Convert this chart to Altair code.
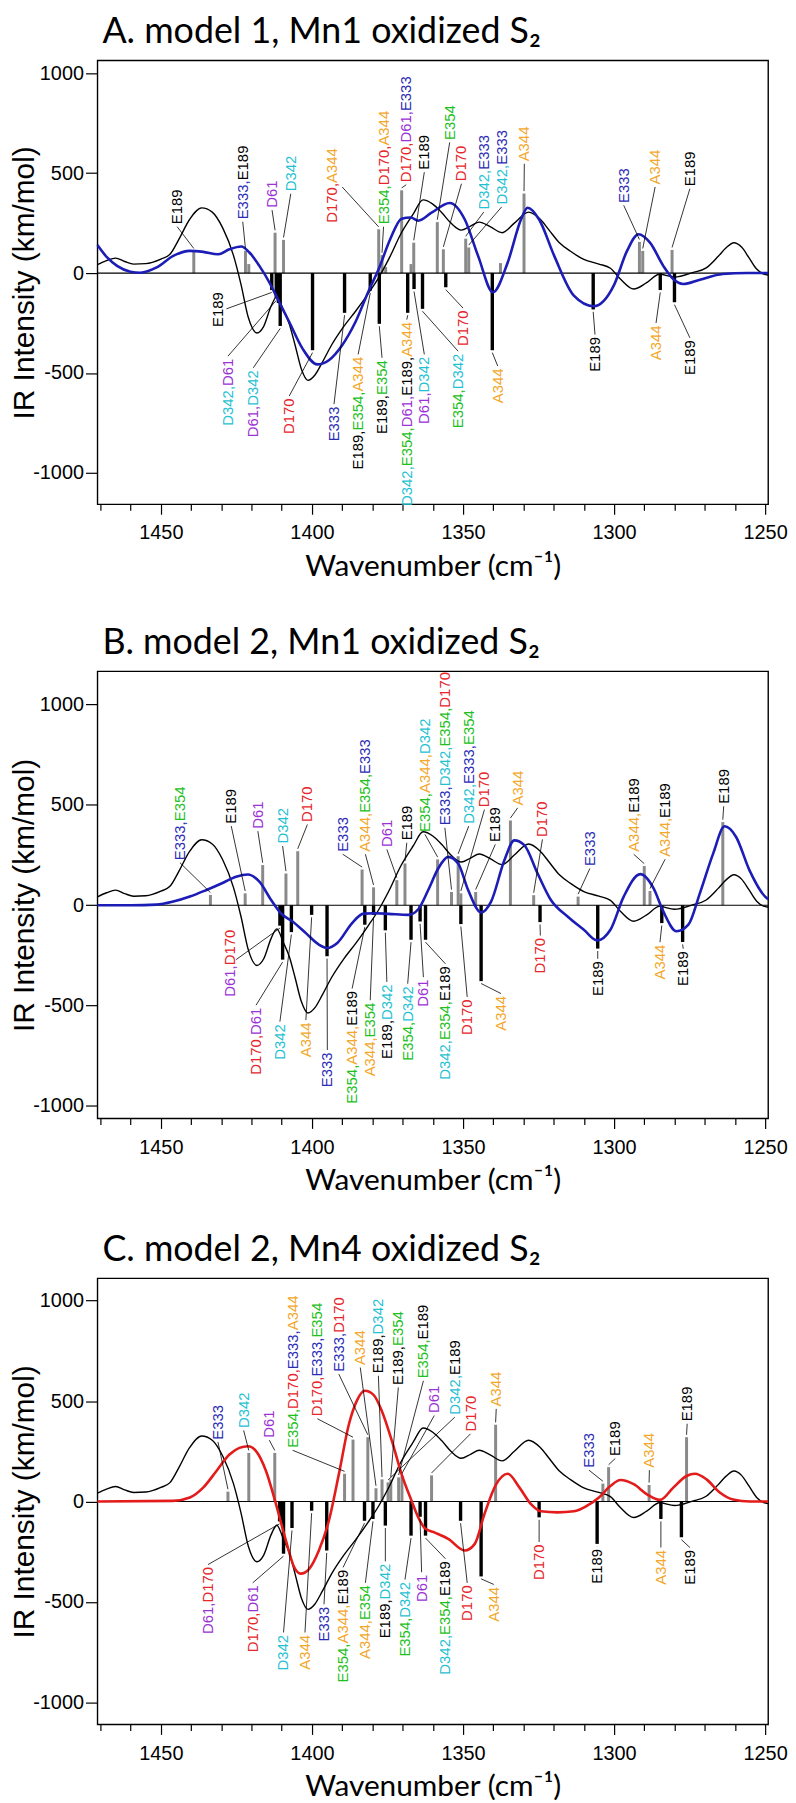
import altair as alt
import pandas as pd

# ---------------- data ----------------
BLACK_WN = [1471, 1468, 1465, 1462, 1459, 1455, 1450, 1447, 1444, 1440.5,
            1436.5, 1433, 1429.5, 1426, 1423.5, 1421, 1418.2, 1416, 1413.5, 1411.6,
            1409.5, 1407.5, 1405.5, 1403.5, 1401.3, 1399, 1396.5, 1393.5, 1389.5, 1385.5,
            1381.5, 1378, 1374.5, 1370.5, 1366.5, 1363.2, 1360, 1357, 1354, 1350.6,
            1347.5, 1344.6, 1341, 1337, 1333, 1328.3, 1324.5, 1321.5, 1318, 1314.4,
            1310, 1305, 1301.2, 1297.9, 1293.5, 1289.2, 1285, 1280, 1274, 1269.5,
            1265.5, 1263, 1260.3, 1257.8, 1255.3, 1252.8, 1250.5, 1249]
BLACK_VAL = [42, 62, 75, 58, 45, 47, 70, 94, 170, 268,
             326, 305, 225, 90, -55, -225, -300, -268, -165, -118,
             -185, -255, -365, -480, -537, -510, -445, -360, -268, -190,
             -105, -25, 72, 198, 295, 366, 345, 302, 250, 215,
             235, 255, 232, 202, 250, 305, 270, 215, 150, 109,
             68, 45, 24, -30, -80, -48, -6, -20, 2, 26,
             84, 125, 152, 130, 76, 20, -5, -10]

A_CURVE_WN = [1471, 1467.8, 1464.5, 1460.1, 1456.8, 1451.4, 1445.9, 1440.4, 1436, 1431.1,
              1427.3, 1423.4, 1420.7, 1417.4, 1414.1, 1410.8, 1407.5, 1403.1, 1398.2, 1394.4,
              1390, 1385.6, 1381.2, 1377.9, 1374.1, 1370.3, 1367.3, 1364.8, 1360.4, 1354.4,
              1349.4, 1345, 1340.1, 1335.2, 1330.8, 1328.6, 1324.8, 1319.8, 1313.3, 1306.7,
              1300.1, 1295.7, 1291.9, 1288.1, 1283.7, 1280.4, 1277.1, 1271.6, 1264, 1256, 1249]
A_CURVE_VAL = [140, 78, 36, 7, 2, 28, 86, 111, 106, 94,
               119, 133, 103, 36, -46, -146, -245, -378, -457, -436,
               -361, -245, -88, 20, 169, 272, 278, 262, 302, 351,
               268, 86, -96, 53, 268, 327, 268, 86, -113, -166,
               -63, 111, 194, 152, 36, -30, -55, -33, -5, 0, 0]

B_CURVE_WN = [1471, 1460, 1451.4, 1445.9, 1440.4, 1434.9, 1429.4, 1425.1, 1421.2, 1417.4,
              1413.5, 1410.3, 1406.4, 1402, 1397.7, 1394.9, 1391.6, 1386.7, 1382.9, 1379,
              1374.6, 1368.1, 1364.8, 1361.5, 1358.2, 1354.9, 1351.6, 1348.3, 1344, 1340.7,
              1336.3, 1333, 1329.7, 1325.3, 1320.9, 1315.4, 1310, 1305.6, 1301.2, 1296.8,
              1291.3, 1286.9, 1283.7, 1279.3, 1275.4, 1271.6, 1267.2, 1263.4, 1259.6, 1255.2,
              1250, 1249]
B_CURVE_VAL = [0, 0, 3, 18, 43, 76, 112, 142, 153, 117,
               26, -40, -81, -139, -196, -213, -188, -89, -42, -40,
               -43, -48, -20, 76, 183, 241, 208, 76, -36, 18,
               224, 323, 299, 158, 26, -56, -122, -175, -122, 43,
               155, 84, -31, -130, -97, 59, 257, 393, 340, 175,
               43, 30]

C_CURVE_WN = [1471, 1446, 1440.4, 1436, 1431.6, 1427.3, 1424, 1421.2, 1418.5, 1415.2,
              1411.9, 1408.6, 1405.9, 1403.7, 1400.9, 1397.7, 1394.4, 1391.1, 1387.8, 1385,
              1382.5, 1379.6, 1376.8, 1373.5, 1370.3, 1367, 1364.8, 1362.5, 1359.3, 1354.9,
              1349.4, 1346.1, 1342.9, 1339, 1335.2, 1331.3, 1327.5, 1324.2, 1318.7, 1313.3,
              1308.9, 1305, 1301.2, 1297.9, 1293.5, 1289.1, 1284.8, 1280.4, 1276, 1273.2,
              1269.4, 1265, 1260.6, 1255, 1249]
C_CURVE_VAL = [0, 3, 20, 69, 152, 234, 267, 275, 251, 152,
               -13, -195, -326, -359, -335, -244, -96, 135, 382, 506,
               551, 531, 448, 300, 135, 3, -79, -135, -155, -186,
               -244, -211, -63, 86, 138, 69, -13, -49, -54, -49,
               -21, 20, 77, 107, 86, 36, 8, 69, 127, 138,
               110, 45, 10, 0, 0]

A_POS_WN = [1439.1, 1422.0, 1420.9, 1412.2, 1409.4, 1377.9, 1376.8, 1375.6, 1370.3, 1367.2,
            1366.3, 1358.5, 1356.5, 1349.1, 1348.1, 1337.6, 1329.8, 1291.6, 1290.5, 1280.8]
A_POS_VAL = [111, 111, 45, 202, 166, 219, 90, 30, 414, 45,
             152, 255, 119, 172, 128, 50, 398, 156, 111, 116]
A_NEG_WN = [1413.3, 1411.8, 1411.1, 1410.5, 1399.8, 1389.2, 1380.7, 1377.7, 1368.3, 1366.2,
            1363.4, 1355.7, 1340.3, 1306.9, 1284.7, 1280.0]
A_NEG_VAL = [-85, -125, -150, -265, -386, -199, -88, -254, -199, -80,
             -179, -71, -386, -182, -85, -146]

B_POS_WN = [1433.6, 1422.1, 1416.3, 1408.6, 1404.7, 1383.4, 1379.6, 1371.9, 1369.2, 1358.4,
            1353.8, 1351.6, 1350.7, 1345.8, 1334.3, 1326.6, 1311.9, 1290.0, 1288.1, 1264.0]
B_POS_VAL = [51, 59, 200, 158, 269, 178, 89, 125, 208, 228,
             66, 244, 59, 66, 422, 50, 43, 195, 71, 414]
B_NEG_WN = [1410.6, 1409.7, 1406.8, 1400.1, 1395.0, 1382.5, 1379.6, 1375.7, 1367.2, 1364.2,
            1362.4, 1350.7, 1344.0, 1324.5, 1305.4, 1284.2, 1277.3]
B_NEG_VAL = [-102, -271, -134, -48, -254, -97, -48, -125, -172, -81,
             -172, -94, -378, -84, -216, -89, -183]

C_POS_WN = [1427.8, 1420.9, 1412.3, 1389.2, 1386.4, 1381.5, 1378.8, 1376.8, 1374.8, 1373.9,
            1371.3, 1370.2, 1360.4, 1339.2, 1303.7, 1301.8, 1288.4, 1276.0]
C_POS_VAL = [49, 242, 242, 138, 308, 320, 66, 110, 95, 110,
             120, 128, 130, 382, 89, 171, 82, 320]
C_NEG_WN = [1410.7, 1410.0, 1409.4, 1406.6, 1400.1, 1395.1, 1382.6, 1379.8, 1375.7, 1367.2,
            1364.2, 1362.4, 1350.8, 1344.0, 1324.8, 1305.6, 1284.5, 1277.7]
C_NEG_VAL = [-99, -99, -260, -132, -46, -244, -96, -87, -120, -170,
             -76, -170, -96, -373, -79, -211, -87, -178]

# labels: (text, label x, label end y, stick x, stick end y[, leader start x, y])
A_LABELS = [
    ("E189", 1444.6, 244, 1439.1, 111),
    ("E333,E189", 1422.9, 269, 1422.0, 111),
    ("D61", 1413.2, 327, 1412.2, 202),
    ("D342", 1407.0, 409, 1409.4, 166),
    ("D170,A344", 1393.3, 252, 1377.9, 219, 1390.0, 431),
    ("E354,D170,A344", 1376.3, 244, 1376.8, 90),
    ("D170,D61,E333", 1368.8, 454, 1370.3, 414),
    ("E189", 1362.8, 517, 1366.3, 152),
    ("E354", 1354.4, 666, 1358.5, 255),
    ("D170", 1350.5, 459, 1356.5, 119),
    ("D342,E333", 1343.1, 318, 1349.1, 172),
    ("D342,E333", 1337.2, 343, 1348.1, 128),
    ("A344", 1329.7, 559, 1329.8, 398),
    ("E333", 1296.8, 351, 1291.6, 156),
    ("A344", 1286.4, 443, 1290.5, 111),
    ("E189", 1274.9, 434, 1280.8, 116),
    ("E189", 1431.1, -96, 1413.3, -85, 1428.3, -179),
    ("D342,D61", 1427.8, -428, 1411.8, -125),
    ("D61,D342", 1419.4, -486, 1410.5, -265),
    ("D170", 1407.5, -627, 1399.8, -386),
    ("E333", 1392.7, -668, 1389.2, -199),
    ("E189,E354,A344", 1384.7, -419, 1380.7, -88),
    ("E189,E354", 1376.8, -436, 1377.7, -254),
    ("D342,E354,D61,E189,A344", 1368.6, -245, 1368.3, -199),
    ("D61,D342", 1362.8, -419, 1366.2, -80),
    ("E354,D342", 1351.6, -403, 1363.4, -179),
    ("D170", 1350.0, -187, 1355.7, -71),
    ("A344", 1338.5, -477, 1340.3, -386),
    ("E189", 1306.3, -320, 1306.9, -182),
    ("A344", 1286.1, -262, 1284.7, -85),
    ("E189", 1274.9, -336, 1280.0, -146),
]

B_LABELS = [
    ("E333,E354", 1443.7, 224, 1433.6, 51),
    ("E189", 1426.7, 406, 1422.1, 59),
    ("D61", 1417.9, 381, 1416.3, 200),
    ("D342", 1409.7, 307, 1408.6, 158),
    ("D170", 1401.5, 414, 1404.7, 269),
    ("E333", 1389.8, 266, 1383.4, 178),
    ("A344,E354,E333", 1382.3, 266, 1379.6, 89),
    ("D61", 1375.2, 290, 1371.9, 125),
    ("E189", 1368.6, 323, 1369.2, 208),
    ("E354,A344,D342", 1362.6, 365, 1358.4, 228),
    ("E333,D342,E354,D170", 1356.0, 398, 1353.8, 66),
    ("D342,E333,E354", 1348.1, 406, 1351.6, 244),
    ("D170", 1342.9, 488, 1350.7, 59),
    ("E189", 1339.3, 315, 1345.8, 66),
    ("A344", 1331.9, 497, 1334.3, 422),
    ("D170", 1323.7, 340, 1326.6, 50),
    ("E333", 1308.0, 195, 1311.9, 43),
    ("A344,E189", 1293.5, 266, 1290.0, 195),
    ("A344,E189", 1283.1, 241, 1288.1, 71),
    ("E189", 1263.7, 505, 1264.0, 414),
    ("D61,D170", 1427.0, -122, 1410.6, -102, 1425.1, -271),
    ("D170,D61", 1418.5, -510, 1409.7, -271),
    ("D342", 1410.6, -592, 1406.8, -134),
    ("A344", 1402.0, -584, 1400.1, -48),
    ("E333", 1394.9, -733, 1395.0, -254),
    ("E354,A344,E189", 1386.7, -427, 1382.5, -97),
    ("A344,E354", 1380.7, -485, 1379.6, -48),
    ("E189,D342", 1375.2, -394, 1375.7, -125),
    ("E354,D342", 1368.3, -403, 1367.2, -172),
    ("D61", 1363.1, -370, 1364.2, -81),
    ("D342,E354,E189", 1355.8, -304, 1362.4, -172),
    ("D170", 1348.6, -469, 1350.7, -94),
    ("A344", 1337.4, -452, 1344.0, -378),
    ("D170", 1324.4, -163, 1324.5, -84),
    ("E189", 1305.4, -279, 1305.4, -216),
    ("A344", 1284.8, -196, 1284.2, -89),
    ("E189", 1277.1, -229, 1277.3, -183),
]

C_LABELS = [
    ("E333", 1431.1, 308, 1427.8, 49),
    ("D342", 1422.6, 366, 1420.9, 242),
    ("D61", 1414.1, 317, 1412.3, 242),
    ("E354,D170,E333,A344", 1406.4, 267, 1389.2, 138),
    ("D170,E333,E354", 1398.2, 424, 1386.4, 308),
    ("E333,D170", 1391.1, 646, 1381.5, 320),
    ("A344", 1384.0, 679, 1378.8, 66),
    ("E189,D342", 1378.0, 638, 1376.8, 110),
    ("E189,E354", 1371.4, 580, 1373.9, 110),
    ("E354,E189", 1363.1, 613, 1371.3, 120),
    ("D61", 1359.5, 440, 1370.2, 128),
    ("D342,E189", 1352.7, 432, 1374.8, 95),
    ("D170", 1347.5, 349, 1360.4, 130),
    ("A344", 1339.0, 473, 1339.2, 382),
    ("E333", 1308.3, 168, 1303.7, 89),
    ("E189", 1299.6, 226, 1301.8, 171),
    ("A344", 1288.3, 168, 1288.4, 82),
    ("E189", 1275.8, 399, 1276.0, 320),
    ("D61,D170", 1434.4, -326, 1410.7, -99),
    ("D170,D61", 1419.6, -417, 1409.4, -260),
    ("D342", 1409.4, -664, 1406.6, -132),
    ("A344", 1402.3, -664, 1400.1, -46),
    ("E333", 1396.0, -524, 1395.1, -244),
    ("E354,A344,E189", 1389.7, -340, 1382.6, -96),
    ("A344,E354", 1382.3, -417, 1379.8, -87),
    ("E189,D342", 1375.7, -310, 1375.7, -120),
    ("E354,D342", 1369.2, -401, 1367.2, -170),
    ("D61", 1363.7, -364, 1364.2, -76),
    ("D342,E354,E189", 1355.8, -297, 1362.4, -170),
    ("D170", 1348.6, -417, 1350.8, -96),
    ("A344", 1339.8, -425, 1344.0, -373),
    ("D170", 1324.8, -214, 1324.8, -79),
    ("E189", 1305.6, -236, 1305.6, -211),
    ("A344", 1284.5, -241, 1284.5, -87),
    ("E189", 1274.9, -241, 1277.7, -178),
]

TITLES = ["A. model 1, Mn1 oxidized S\u2082",
          "B. model 2, Mn1 oxidized S\u2082",
          "C. model 2, Mn4 oxidized S\u2082"]

RES_COLORS = {"E189": "#000000", "E333": "#2b2bb6", "D61": "#9b32d6",
              "D342": "#1fc1d3", "D170": "#e6262b", "A344": "#f3a72b",
              "E354": "#22bf22"}

# ---------------- styling ----------------
LBL_FONT = "Liberation Sans, Arial, sans-serif"
TTL_FONT = "Lato, Carlito, sans-serif"
LBL_FS = 15
EM = {"E": 0.667, "D": 0.722, "A": 0.667, ",": 0.278}
PLOT_W = 675
TITLE_FS = 36


def text_w(s):
    return sum(EM.get(c, 0.556) for c in s) * LBL_FS


def build_labels(labels):
    segs, leads = [], []
    gap = 12
    for lab in labels:
        text, x, y, sx, sy = lab[:5]
        parts = text.split(",")
        strs = [p + ("," if i < len(parts) - 1 else "") for i, p in enumerate(parts)]
        total = sum(text_w(s) for s in strs)
        up = sy > 0
        cum = 0.0
        for s, p in zip(strs, parts):
            segs.append({"wn": x, "val": y, "txt": s, "col": RES_COLORS[p],
                         "dx": cum if up else cum - total})
            cum += text_w(s)
        if len(lab) > 5:
            lx, ly = lab[5], lab[6]
        else:
            lx, ly = x, (y - gap if up else y + gap)
        leads.append({"wn": lx, "val": ly, "wn2": sx,
                      "val2": sy + gap if up else sy - gap})
    return pd.DataFrame(segs), pd.DataFrame(leads)


def panel(title, cwn, cval, ccol, pwn, pval, nwn, nval, labels, ydom, h):
    xs = alt.Scale(domain=[1249, 1471], reverse=True, nice=False, zero=False)
    ys = alt.Scale(domain=ydom, nice=False, zero=False)
    xax = alt.Axis(values=list(range(1250, 1471, 10)),
                   labelExpr="datum.value % 50 === 0 ? '' + datum.value : ''",
                   tickSize={"condition": {"test": "datum.value % 50 === 0", "value": 10}, "value": 6},
                   tickColor="black", tickWidth=1.2, labelPadding=8.8,
                   labelFont=LBL_FONT, labelFontSize=20, labelColor="black",
                   labelOverlap=False, labelFlush=False, domain=False, grid=False,
                   title="Wavenumber (cm\u207b\u00b9)", titleFont=TTL_FONT, titleFontSize=30,
                   titleFontWeight="normal", titleColor="black", titlePadding=8.4)
    yax = alt.Axis(values=[-1000, -500, 0, 500, 1000], labelExpr="'' + datum.value",
                   tickSize=12, tickColor="black", tickWidth=1.2, labelPadding=2,
                   labelFont=LBL_FONT, labelFontSize=20, labelColor="black",
                   domain=False, grid=False, title="IR Intensity (km/mol)",
                   titleFont=LBL_FONT, titleFontSize=30, titleFontWeight="normal",
                   titleColor="black", titleX=-64.7, titleY=h / 2, titleAngle=270,
                   titleAlign="center", titleBaseline="alphabetic")
    X = alt.X("wn:Q", scale=xs, axis=xax)
    Y = alt.Y("val:Q", scale=ys, axis=yax)

    pos = pd.DataFrame({"wn": pwn, "val": pval, "base": 0})
    neg = pd.DataFrame({"wn": nwn, "val": nval, "base": 0})
    zero = pd.DataFrame({"val": [0]})
    blk = pd.DataFrame({"wn": BLACK_WN, "val": BLACK_VAL, "ord": list(range(len(BLACK_WN)))})
    cur = pd.DataFrame({"wn": cwn, "val": cval, "ord": list(range(len(cwn)))})
    segs, leads = build_labels(labels)

    l_pos = alt.Chart(pos).mark_rule(color="#8a8a8a", strokeWidth=3).encode(
        x=X, y=Y, y2=alt.Y2("base"))
    l_neg = alt.Chart(neg).mark_rule(color="black", strokeWidth=3.4).encode(
        x=X, y=Y, y2=alt.Y2("base"))
    l_zero = alt.Chart(zero).mark_rule(color="black", strokeWidth=1.2).encode(y=Y)
    l_blk = alt.Chart(blk).mark_line(color="black", strokeWidth=1.4, interpolate="monotone").encode(
        x=X, y=Y, order="ord:Q")
    l_cur = alt.Chart(cur).mark_line(color=ccol, strokeWidth=2.6, interpolate="monotone").encode(
        x=X, y=Y, order="ord:Q")
    l_lead = alt.Chart(leads).mark_rule(color="black", strokeWidth=0.8).encode(
        x=X, y=Y, x2=alt.X2("wn2"), y2=alt.Y2("val2"))
    l_txt = alt.Chart(segs).mark_text(angle=270, align="left", baseline="middle",
                                      font=LBL_FONT, fontSize=LBL_FS,
                                      dx=alt.ExprRef("datum.dx")).encode(
        x=X, y=Y, text="txt:N", color=alt.Color("col:N", scale=None))

    return alt.layer(l_pos, l_neg, l_zero, l_blk, l_cur, l_lead, l_txt).properties(
        width=PLOT_W, height=h,
        title=alt.TitleParams(text=title, anchor="start", frame="group", font=TTL_FONT,
                              fontSize=TITLE_FS, fontWeight="normal", color="black",
                              offset=45.3 - TITLE_FS, dx=5))


pa = panel(TITLES[0], A_CURVE_WN, A_CURVE_VAL, "#1c1cb6", A_POS_WN, A_POS_VAL,
           A_NEG_WN, A_NEG_VAL, A_LABELS, [-1157, 1064], 446.7)
pb = panel(TITLES[1], B_CURVE_WN, B_CURVE_VAL, "#1c1cb6", B_POS_WN, B_POS_VAL,
           B_NEG_WN, B_NEG_VAL, B_LABELS, [-1062, 1165], 450)
pc = panel(TITLES[2], C_CURVE_WN, C_CURVE_VAL, "#e31b1b", C_POS_WN, C_POS_VAL,
           C_NEG_WN, C_NEG_VAL, C_LABELS, [-1110, 1111], 449)

inner = alt.vconcat(pb, pc, spacing=35.9)
chart = alt.vconcat(pa, inner, spacing=42.8).properties(
    padding=0, background="white"
).configure_view(stroke="black", strokeWidth=1.4)

chart.save("out.html", embed_options={"renderer": "svg", "actions": False})
